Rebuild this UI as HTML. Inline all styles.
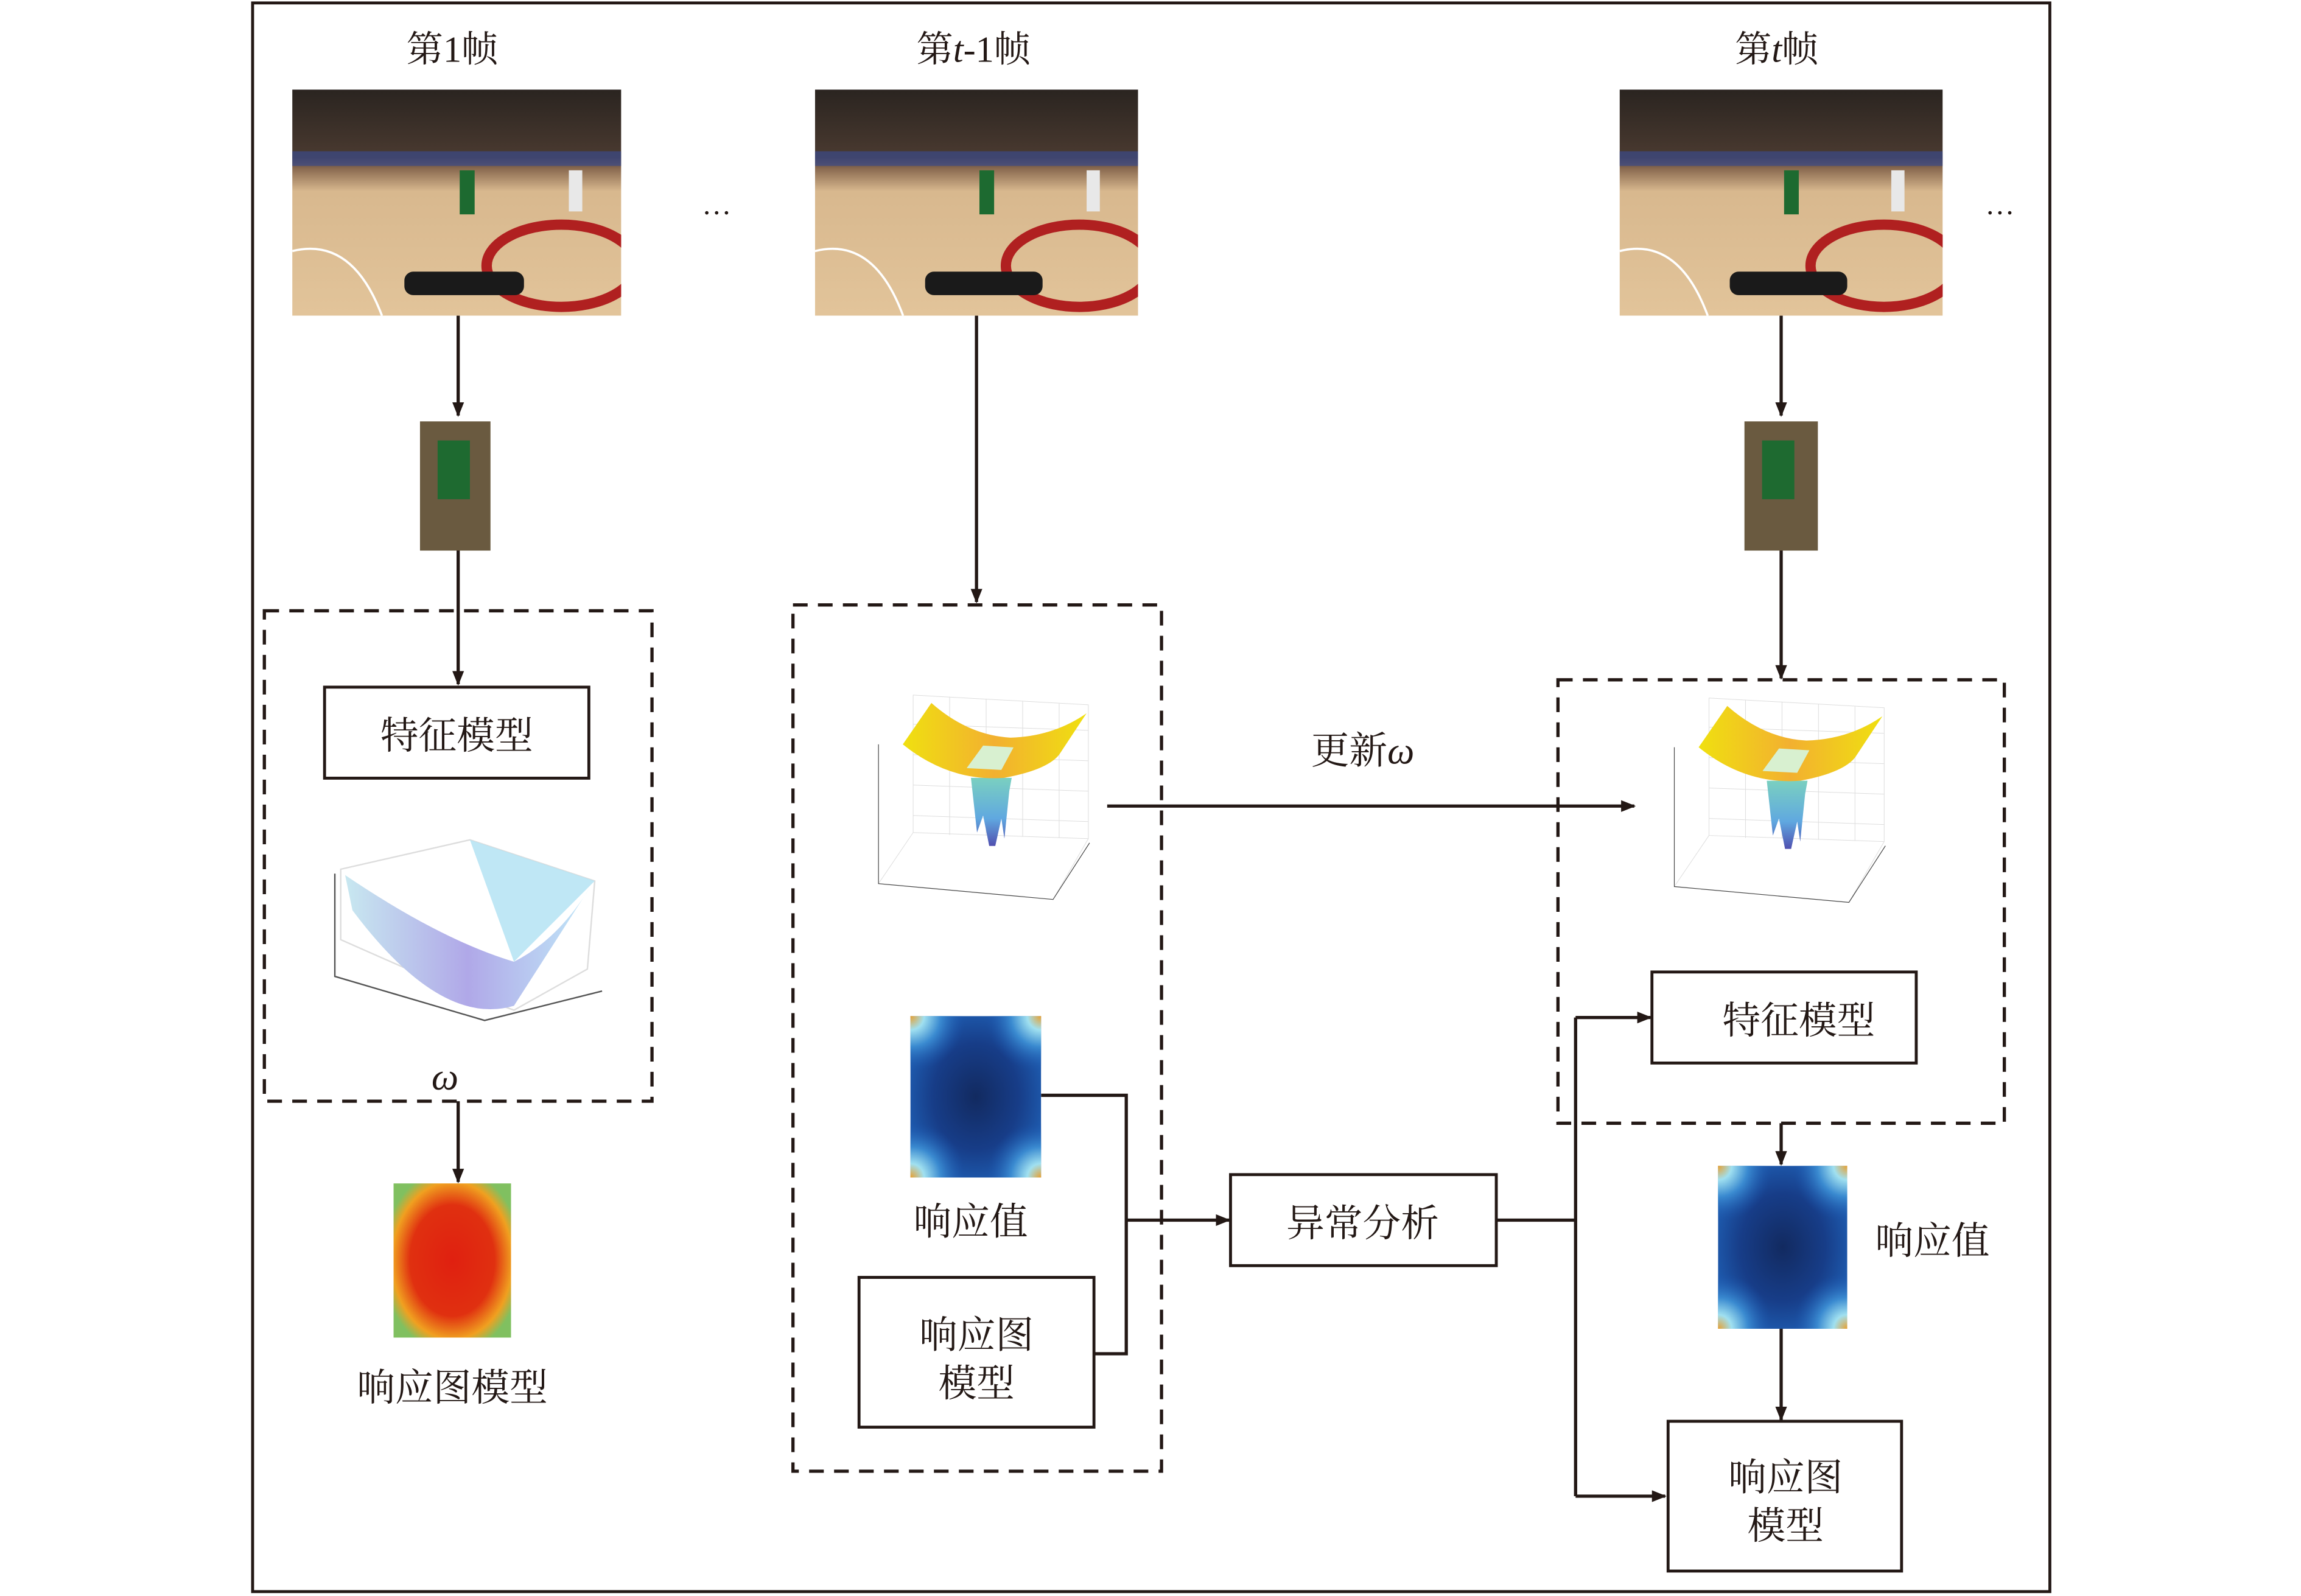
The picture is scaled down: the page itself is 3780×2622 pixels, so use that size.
<!DOCTYPE html>
<html><head><meta charset="utf-8"><style>
html,body{margin:0;padding:0;background:#fff}
svg{display:block}
text{font-family:"Liberation Serif","Noto Serif CJK SC","Noto Sans CJK SC",serif;fill:#231815}
</style></head><body>
<svg width="3780" height="2622" viewBox="0 0 1567 1087" xmlns="http://www.w3.org/2000/svg">
<defs>
<marker id="ar" markerWidth="10" markerHeight="8" refX="9" refY="4" orient="auto" markerUnits="userSpaceOnUse"><path d="M0,0 L10,4 L0,8 Z" fill="#231815"/></marker>
<linearGradient id="court" x1="0" y1="0" x2="0" y2="1">
<stop offset="0" stop-color="#2a2420"/><stop offset="0.3" stop-color="#4a3a30"/><stop offset="0.35" stop-color="#8a6a50"/><stop offset="0.45" stop-color="#d8b88e"/><stop offset="1" stop-color="#e2c49a"/></linearGradient>
<linearGradient id="yel" x1="0" y1="0" x2="1" y2="0"><stop offset="0" stop-color="#f0e010"/><stop offset="0.5" stop-color="#f2b030"/><stop offset="1" stop-color="#f0e010"/></linearGradient>
<linearGradient id="fun" x1="0" y1="0" x2="0" y2="1"><stop offset="0" stop-color="#7ad0c0"/><stop offset="0.6" stop-color="#60a8e0"/><stop offset="1" stop-color="#5050b0"/></linearGradient>
<linearGradient id="bowl" x1="0" y1="0" x2="1" y2="0"><stop offset="0" stop-color="#c8e8f0"/><stop offset="0.5" stop-color="#b0a8e8"/><stop offset="1" stop-color="#c0e8f8"/></linearGradient>
<radialGradient id="bc" cx="0.5" cy="0.5" r="0.5"><stop offset="0" stop-color="#e8a030"/><stop offset="0.25" stop-color="#a0e0f0"/><stop offset="0.55" stop-color="#3a8ad0"/><stop offset="1" stop-color="#1a50a8" stop-opacity="0"/></radialGradient>
<radialGradient id="bmid" cx="0.5" cy="0.5" r="0.55"><stop offset="0" stop-color="#122a60"/><stop offset="0.6" stop-color="#173d88"/><stop offset="1" stop-color="#1e5cb0"/></radialGradient>
<radialGradient id="red" cx="0.5" cy="0.5" r="0.6"><stop offset="0" stop-color="#e02010"/><stop offset="0.6" stop-color="#e03010"/><stop offset="0.85" stop-color="#f0a020"/><stop offset="1" stop-color="#80c060"/></radialGradient>
<symbol id="surf" viewBox="0 0 500 420" width="208" height="174">
<g stroke="#ddd" stroke-width="1" fill="none">
<path d="M100,42 L388,58 L388,278 L100,268 Z"/><path d="M43,352 L100,268 M330,378 L388,278"/>
<path d="M100,90 L388,100 M100,140 L388,150 M100,190 L388,200 M100,240 L388,250"/>
<path d="M160,45 L160,272 M220,48 L220,273 M280,52 L280,275 M340,56 L340,277"/>
</g>
<path d="M43,123 L43,352 L330,378 L390,285" stroke="#444" stroke-width="1.2" fill="none"/>
<path d="M195,178 L205,268 L215,240 L225,290 L235,290 L245,245 L250,278 L258,200 L262,178 Z" fill="url(#fun)"/>
<path d="M130,55 L83,123 Q160,185 250,178 Q320,165 340,140 L385,72 Q330,110 260,112 Q190,108 130,55 Z" fill="url(#yel)"/>
<path d="M188,162 L215,125 L265,128 L245,165 Z" fill="#d8f0d0"/>
</symbol>
<symbol id="blue" viewBox="0 0 90 110" width="90" height="110" preserveAspectRatio="none">
<rect width="90" height="110" fill="url(#bmid)"/>
<circle cx="0" cy="0" r="38" fill="url(#bc)"/><circle cx="90" cy="0" r="38" fill="url(#bc)"/>
<circle cx="0" cy="110" r="38" fill="url(#bc)"/><circle cx="90" cy="110" r="38" fill="url(#bc)"/>
</symbol>
<symbol id="photo" viewBox="0 0 220 154" width="220" height="154" preserveAspectRatio="none">
<rect width="220" height="154" fill="url(#court)"/>
<rect x="0" y="42" width="220" height="10" fill="#3a4a8a" opacity="0.7"/>
<ellipse cx="180" cy="120" rx="50" ry="28" fill="none" stroke="#b02020" stroke-width="7"/>
<path d="M0,110 Q40,100 60,154" stroke="#fff" stroke-width="1.5" fill="none"/>
<rect x="75" y="124" width="80" height="16" rx="6" fill="#1a1a1a"/>
<rect x="112" y="55" width="10" height="30" fill="#1d6a30"/><rect x="185" y="55" width="9" height="28" fill="#e8e8e8"/>
</symbol>
</defs>
<rect x="172" y="2" width="1224" height="1082" fill="none" stroke="#231815" stroke-width="2"/>
<g font-size="25" text-anchor="middle">
<text x="308" y="42">第1帧</text>
<text x="663" y="42">第<tspan font-style="italic">t</tspan>-1帧</text>
<text x="1210" y="42">第<tspan font-style="italic">t</tspan>帧</text>
</g>
<use href="#photo" x="199" y="61" width="224" height="154"/>
<use href="#photo" x="555" y="61" width="220" height="154"/>
<use href="#photo" x="1103" y="61" width="220" height="154"/>
<text x="488" y="146" font-size="20" text-anchor="middle">…</text>
<text x="1362" y="146" font-size="20" text-anchor="middle">…</text>
<g stroke="#231815" stroke-width="2.2" fill="none">
<line x1="312" y1="215" x2="312" y2="283" marker-end="url(#ar)"/>
<line x1="312" y1="375" x2="312" y2="466" marker-end="url(#ar)"/>
<line x1="312" y1="750" x2="312" y2="805" marker-end="url(#ar)"/>
<line x1="665" y1="215" x2="665" y2="410" marker-end="url(#ar)"/>
<line x1="1213" y1="215" x2="1213" y2="283" marker-end="url(#ar)"/>
<line x1="1213" y1="375" x2="1213" y2="462" marker-end="url(#ar)"/>
<line x1="1213" y1="765" x2="1213" y2="793" marker-end="url(#ar)"/>
<line x1="1213" y1="905" x2="1213" y2="967" marker-end="url(#ar)"/>
<line x1="754" y1="549" x2="1113" y2="549" marker-end="url(#ar)"/>
<polyline points="709,746 767,746 767,922 745,922"/>
<line x1="767" y1="831" x2="837" y2="831" marker-end="url(#ar)"/>
<polyline points="1019,831 1073,831"/>
<line x1="1073" y1="693" x2="1073" y2="1019"/>
<line x1="1073" y1="693" x2="1124" y2="693" marker-end="url(#ar)"/>
<line x1="1073" y1="1019" x2="1134" y2="1019" marker-end="url(#ar)"/>
</g>
<g stroke="#231815" stroke-width="2.2" fill="none" stroke-dasharray="10,7">
<rect x="180" y="416" width="264" height="334"/>
<rect x="540" y="412" width="251" height="590"/>
<rect x="1061" y="463" width="304" height="302"/>
</g>
<rect x="286" y="287" width="48" height="88" fill="#6a5a40"/><rect x="298" y="300" width="22" height="40" fill="#1e6a30"/>
<rect x="1188" y="287" width="50" height="88" fill="#6a5a40"/><rect x="1200" y="300" width="22" height="40" fill="#1e6a30"/>
<g stroke="#231815" stroke-width="2" fill="#fff">
<rect x="221" y="468" width="180" height="62"/>
<rect x="585" y="870" width="160" height="102"/>
<rect x="838" y="800" width="181" height="62"/>
<rect x="1125" y="662" width="180" height="62"/>
<rect x="1136" y="968" width="159" height="102"/>
</g>
<g font-size="26" text-anchor="middle">
<text x="311" y="510">特征模型</text>
<text x="665" y="918">响应图</text><text x="665" y="951">模型</text>
<text x="928" y="842">异常分析</text>
<text x="1225" y="704">特征模型</text>
<text x="1216" y="1015">响应图</text><text x="1216" y="1048">模型</text>
<text x="661" y="841">响应值</text>
<text x="1316" y="854">响应值</text>
<text x="308" y="954">响应图模型</text>
<text x="928" y="520">更新<tspan font-style="italic">ω</tspan></text>
<text x="303" y="742" font-style="italic">ω</text>
</g>
<g>
<path d="M232,592 L320,572 L405,600 L400,660 L350,688 L300,670 L232,640 Z" fill="none" stroke="#ddd"/>
<path d="M235,596 L240,620 Q300,700 350,685 L402,604 Q380,640 350,655 Q300,640 235,596 Z" fill="url(#bowl)"/>
<path d="M320,572 L405,600 L350,655 Z" fill="#b8e4f4" opacity="0.9"/>
<path d="M228,595 L228,665 L330,695 L410,675" stroke="#555" fill="none"/>
</g>
<rect x="268" y="806" width="80" height="105" fill="url(#red)"/>
<use href="#surf" x="580" y="456"/>
<use href="#surf" x="1122" y="458"/>
<use href="#blue" x="620" y="692" width="89" height="110"/>
<use href="#blue" x="1170" y="794" width="88" height="111"/>
</svg>
</body></html>
